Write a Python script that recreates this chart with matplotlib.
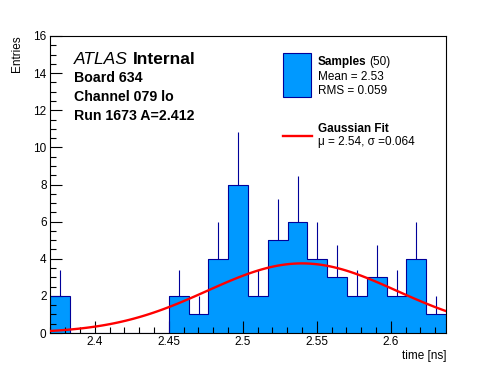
import numpy as np
import matplotlib
matplotlib.use('Agg')
import matplotlib.pyplot as plt
from matplotlib.patches import Rectangle
from matplotlib.lines import Line2D
from matplotlib.ticker import MultipleLocator

plt.rcParams['font.family'] = ['Liberation Sans', 'DejaVu Sans']

# histogram contents, 20 bins between x_lo and x_hi
x_lo, x_hi = 2.3697, 2.6373
counts = [2, 0, 0, 0, 0, 0, 2, 1, 4, 8, 2, 5, 6, 4, 3, 2, 3, 2, 4, 1]

# gaussian fit parameters
fit_mu = 2.54
fit_sigma = 0.064
fit_amp = 3.75

W, H = 496, 372
fill_col = '#0099ff'
line_col = '#000099'


def fx(px):
    return px / W


def fy(py):
    return 1 - py / H


fig = plt.figure(figsize=(W / 100, H / 100), dpi=100)
ax = fig.add_axes([fx(50), fy(333), fx(446) - fx(50), fy(36) - fy(333)])

edges = np.linspace(x_lo, x_hi, len(counts) + 1)
counts = np.array(counts, dtype=float)
centers = 0.5 * (edges[:-1] + edges[1:])

ax.stairs(counts, edges, fill=True, color=fill_col, zorder=1)
ax.stairs(counts, edges, color=line_col, lw=0.8, baseline=0, zorder=2)
nz = counts > 0
ax.vlines(centers[nz], counts[nz], counts[nz] + np.sqrt(counts[nz]),
          color=line_col, lw=0.8, zorder=2)

xs = np.linspace(x_lo, x_hi, 100)
ax.plot(xs, fit_amp * np.exp(-0.5 * ((xs - fit_mu) / fit_sigma) ** 2),
        color='red', lw=1.7, zorder=3)

ax.set_xlim(x_lo, x_hi)
ax.set_ylim(0, 16)
ax.xaxis.set_major_locator(MultipleLocator(0.05))
ax.xaxis.set_minor_locator(MultipleLocator(0.01))
ax.yaxis.set_major_locator(MultipleLocator(2))
ax.yaxis.set_minor_locator(MultipleLocator(0.5))
ax.xaxis.set_major_formatter(plt.FuncFormatter(lambda v, p: ('%.2f' % v).rstrip('0').rstrip('.')))
ax.tick_params(which='both', direction='in', top=False, right=False,
               labelsize=8.5, width=0.8)
ax.tick_params(which='major', length=8.5)
ax.tick_params(which='minor', length=4.5)
ax.tick_params(axis='x', pad=2)
ax.tick_params(axis='y', pad=2.5)
for s in ax.spines.values():
    s.set_linewidth(0.8)

fig.text(fx(17), fy(35), 'Entries', rotation=90, ha='center', va='top', fontsize=8.5)
fig.text(fx(446), fy(359), 'time [ns]', ha='right', va='baseline', fontsize=8.5)

# labels top-left
fig.text(fx(74), fy(63.5), 'ATLAS', style='italic', fontsize=12.5, va='baseline')
fig.text(fx(133), fy(63.5), 'Internal', weight='bold', fontsize=12.5, va='baseline')
info = ['Board 634', 'Channel 079 lo', 'Run 1673 A=2.412']
for i, t in enumerate(info):
    fig.text(fx(74), fy(82.5 + 18.5 * i), t, weight='bold', fontsize=10.2, va='baseline')

# legend
fig.add_artist(Rectangle((fx(283.3), fy(96.7)), fx(311.3) - fx(283.3), fy(53.3) - fy(96.7),
                         transform=fig.transFigure, facecolor=fill_col,
                         edgecolor=line_col, lw=0.8))
fig.text(fx(317.5), fy(65), 'Samples', weight='bold', fontsize=8.5, va='baseline')
fig.text(fx(369.5), fy(65), '(50)', fontsize=8.5, va='baseline')
fig.text(fx(317.5), fy(80), 'Mean = 2.53', fontsize=8.5, va='baseline')
fig.text(fx(317.5), fy(94), 'RMS = 0.059', fontsize=8.5, va='baseline')

fig.add_artist(Line2D([fx(283), fx(311.5)], [fy(136), fy(136)],
                      transform=fig.transFigure, color='red', lw=1.7))
fig.text(fx(317.5), fy(132.5), 'Gaussian Fit', weight='bold', fontsize=8.5, va='baseline')
fig.text(fx(317.5), fy(145.5), 'μ = 2.54, σ =0.064', fontsize=8.5, va='baseline')

fig.savefig('out.png', dpi=100)
